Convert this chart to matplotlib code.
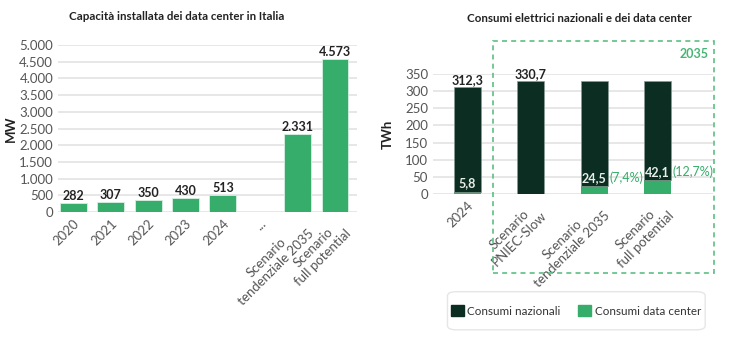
import matplotlib.pyplot as plt
from matplotlib.patches import Rectangle, FancyBboxPatch

plt.rcParams['font.family'] = ['Lato', 'DejaVu Sans']

GREEN = "#36ad6a"
DARK = "#0c2e22"
TICK_COL = "#555555"
GRID_COL = "#e3e3e3"

# Capacita installata (MW)
cap_labels = ["2020", "2021", "2022", "2023", "2024", "...",
              "Scenario\ntendenziale 2035", "Scenario\nfull potential"]
cap_values = [282, 307, 350, 430, 513, None, 2331, 4573]

# Consumi elettrici (TWh)
cons_labels = ["2024", "Scenario\nPNIEC-Slow", "Scenario\ntendenziale 2035",
               "Scenario\nfull potential"]
cons_total = [312.3, 330.7, 330.7, 330.7]
cons_total_shown = [True, True, False, False]
cons_dc = [5.8, 0.0, 24.5, 42.1]
cons_pct = [None, None, "(7,4%)", "(12,7%)"]


def fmt_it(v, dec=0):
    if dec == 0:
        return f"{v:,.0f}".replace(",", ".")
    return f"{v:.{dec}f}".replace(".", ",")


def style_axis(ax):
    for s in ax.spines.values():
        s.set_visible(False)
    ax.yaxis.grid(True, color=GRID_COL, lw=1.2)
    ax.set_axisbelow(True)
    ax.tick_params(axis="both", length=0, colors=TICK_COL, labelsize=9.5)


fig = plt.figure(figsize=(7.3, 3.4), dpi=100)

# ---- left chart ----
ax1 = fig.add_axes([0.0795, 0.3765, 0.4096, 0.491])
style_axis(ax1)
xs = list(range(len(cap_labels)))
for x, v in zip(xs, cap_values):
    if v is None:
        continue
    ax1.bar(x, v, width=0.72, color=GREEN, edgecolor="#d8efe2", lw=0.6)
    ax1.text(x, v + 30, fmt_it(v), ha="center", va="bottom", fontsize=9,
             fontweight="bold", color="#222222", clip_on=False)
ax1.set_ylim(0, 5000)
ax1.set_xlim(-0.41, 7.59)
ax1.set_yticks(range(0, 5001, 500))
ax1.set_yticklabels([fmt_it(v) for v in range(0, 5001, 500)])
ax1.set_xticks(xs)
ax1.set_xticklabels(cap_labels, rotation=45, ha="right", rotation_mode="anchor",
                    multialignment="center", fontsize=9.5)
ax1.tick_params(axis="x", pad=4)
ax1.set_ylabel("MW", fontsize=9.5, fontweight="bold", color="#222222", labelpad=2)
fig.text(0.242, 0.952, "Capacità installata dei data center in Italia",
         ha="center", va="center", fontsize=8.3, fontweight="bold", color="#222222")

# ---- right chart ----
ax2 = fig.add_axes([0.593, 0.4294, 0.3836, 0.353])
style_axis(ax2)
xr = list(range(len(cons_labels)))
for x, tot, shown, dc, pct in zip(xr, cons_total, cons_total_shown, cons_dc, cons_pct):
    ax2.bar(x, dc, width=0.43, color=GREEN, edgecolor="none")
    ax2.bar(x, tot - dc, bottom=dc, width=0.43, color=DARK, edgecolor="#8a9a94", lw=0.5)
    if shown:
        ax2.text(x, tot + 2, fmt_it(tot, 1), ha="center", va="bottom", fontsize=9,
                 fontweight="bold", color="#222222", clip_on=False)
    if dc > 0:
        ax2.text(x, max(dc + 5, 15), fmt_it(dc, 1), ha="center", va="bottom",
                 fontsize=9, fontweight="bold", color="#e8efe9")
    if pct:
        ax2.text(x + 0.24, dc + 5, pct, ha="left", va="bottom", fontsize=9,
                 color=GREEN)
ax2.set_ylim(0, 350)
ax2.set_xlim(-0.54, 3.87)
ax2.set_yticks(range(0, 351, 50))
ax2.set_xticks(xr)
ax2.set_xticklabels(cons_labels, rotation=45, ha="right", rotation_mode="anchor",
                    multialignment="center", fontsize=9.5)
ax2.tick_params(axis="x", pad=4)
ax2.set_ylabel("TWh", fontsize=9.5, fontweight="bold", color="#222222", labelpad=8)
fig.text(0.793, 0.946, "Consumi elettrici nazionali e dei data center",
         ha="center", va="center", fontsize=8.3, fontweight="bold", color="#222222")

# dashed 2035 box
fig.patches.append(Rectangle((0.675, 0.197), 0.303, 0.682, transform=fig.transFigure,
                             fill=False, ec="#5cc083", lw=1.2, ls=(0, (3, 2.5))))
fig.text(0.970, 0.840, "2035", ha="right", va="center", fontsize=9,
         fontweight="bold", color="#46b574")

# legend
fig.patches.append(FancyBboxPatch((0.613, 0.030), 0.353, 0.112,
                                  boxstyle="round,pad=0,rounding_size=0.012",
                                  transform=fig.transFigure, fc="white",
                                  ec="#e6e6e6", lw=1))
handles = [Rectangle((0, 0), 1, 1, color=DARK), Rectangle((0, 0), 1, 1, color=GREEN)]
fig.legend(handles, ["Consumi nazionali", "Consumi data center"], loc="center",
           bbox_to_anchor=(0.789, 0.086), ncol=2, frameon=False, fontsize=8.4,
           handlelength=1.1, handleheight=1.1, handletextpad=0.3, columnspacing=1.5,
           labelcolor="#333333")

fig.savefig("out.png", dpi=100)
